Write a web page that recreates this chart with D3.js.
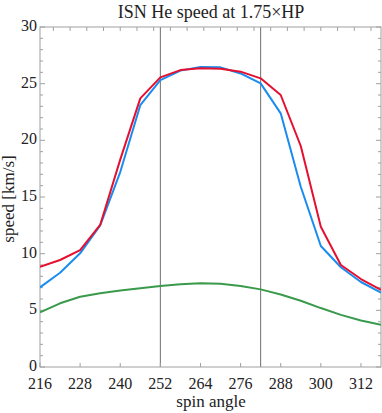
<!DOCTYPE html>
<html><head><meta charset="utf-8">
<script src="https://cdn.jsdelivr.net/npm/d3@7"></script>
<style>body{margin:0;background:#fff}svg{display:block}text{font-family:"Liberation Serif","DejaVu Serif",serif;fill:#222}</style>
</head><body>
<script>
const angles = [216,222,228,234,240,246,252,258,264,270,276,282,288,294,300,306,312,318];
const redSpeed   = [8.85,9.44,10.32,12.53,18.3,23.7,25.56,26.2,26.35,26.32,26.06,25.47,24.0,19.5,12.38,9.0,7.76,6.8];
const blueSpeed  = [7.03,8.32,10.03,12.5,17.2,23.1,25.32,26.15,26.47,26.44,25.9,25.03,22.38,15.9,10.68,8.8,7.5,6.56];
const greenSpeed = [4.83,5.62,6.2,6.5,6.74,6.94,7.15,7.3,7.4,7.35,7.15,6.85,6.4,5.85,5.2,4.6,4.1,3.72];
const xTicks = [216,228,240,252,264,276,288,300,312];
const yTicks = [0,5,10,15,20,25,30];
const markers = [252,282];
const W=382,H=413;
const m={l:40,r:381,t:27,b:367};
const x=d3.scaleLinear().domain([216,318]).range([m.l,m.r]);
const y=d3.scaleLinear().domain([0,30]).range([m.b,m.t]);
const svg=d3.select("body").append("svg").attr("width",W).attr("height",H);
const frame="#a0a0a0";
svg.selectAll(".mk").data(markers).enter().append("line")
 .attr("x1",d=>x(d)).attr("x2",d=>x(d)).attr("y1",m.t).attr("y2",m.b)
 .attr("stroke","#6e6e6e").attr("stroke-width",1);
svg.append("rect").attr("x",m.l).attr("y",m.t).attr("width",m.r-m.l).attr("height",m.b-m.t)
 .attr("fill","none").attr("stroke",frame).attr("stroke-width",1);
const yMinor=d3.range(0,31,1);
svg.selectAll(".lt").data(yMinor).enter().append("line")
 .attr("x1",m.l).attr("x2",d=>m.l+(d%5===0?5:3)).attr("y1",d=>y(d)).attr("y2",d=>y(d)).attr("stroke",frame);
svg.selectAll(".rt").data(yMinor).enter().append("line")
 .attr("x1",m.r).attr("x2",d=>m.r-(d%5===0?5:3)).attr("y1",d=>y(d)).attr("y2",d=>y(d)).attr("stroke",frame);
svg.selectAll(".bt").data(xTicks).enter().append("line")
 .attr("x1",d=>x(d)).attr("x2",d=>x(d)).attr("y1",m.b).attr("y2",m.b-4).attr("stroke",frame);
svg.selectAll(".tt").data(d3.range(220,318,5)).enter().append("line")
 .attr("x1",d=>x(d)).attr("x2",d=>x(d)).attr("y1",m.t).attr("y2",m.t+4).attr("stroke",frame);
svg.selectAll(".yl").data(yTicks).enter().append("text")
 .attr("x",m.l-3).attr("y",d=>y(d)+4).attr("text-anchor","end").attr("font-size",16).text(d=>d);
svg.selectAll(".xl").data(xTicks).enter().append("text")
 .attr("x",d=>x(d)).attr("y",m.b+22).attr("text-anchor","middle").attr("font-size",16).text(d=>d);
svg.append("text").attr("x",211).attr("y",18).attr("text-anchor","middle").attr("font-size",18).text("ISN He speed at 1.75×HP");
svg.append("text").attr("x",211).attr("y",407).attr("text-anchor","middle").attr("font-size",17).text("spin angle");
svg.append("text").attr("transform","translate(14,199) rotate(-90)").attr("text-anchor","middle").attr("font-size",17).text("speed [km/s]");
svg.append("clipPath").attr("id","c").append("rect").attr("x",m.l).attr("y",m.t).attr("width",m.r-m.l).attr("height",m.b-m.t);
const line=d3.line().x((d,i)=>x(angles[i])).y(d=>y(d));
const series=[[greenSpeed,"#3a9a4b"],[blueSpeed,"#1a8cf0"],[redSpeed,"#e5102f"]];
series.forEach(([v,c])=>svg.append("path").attr("d",line(v)).attr("fill","none").attr("stroke",c)
 .attr("stroke-width",2).attr("stroke-linejoin","round").attr("clip-path","url(#c)"));
</script>
</body></html>
